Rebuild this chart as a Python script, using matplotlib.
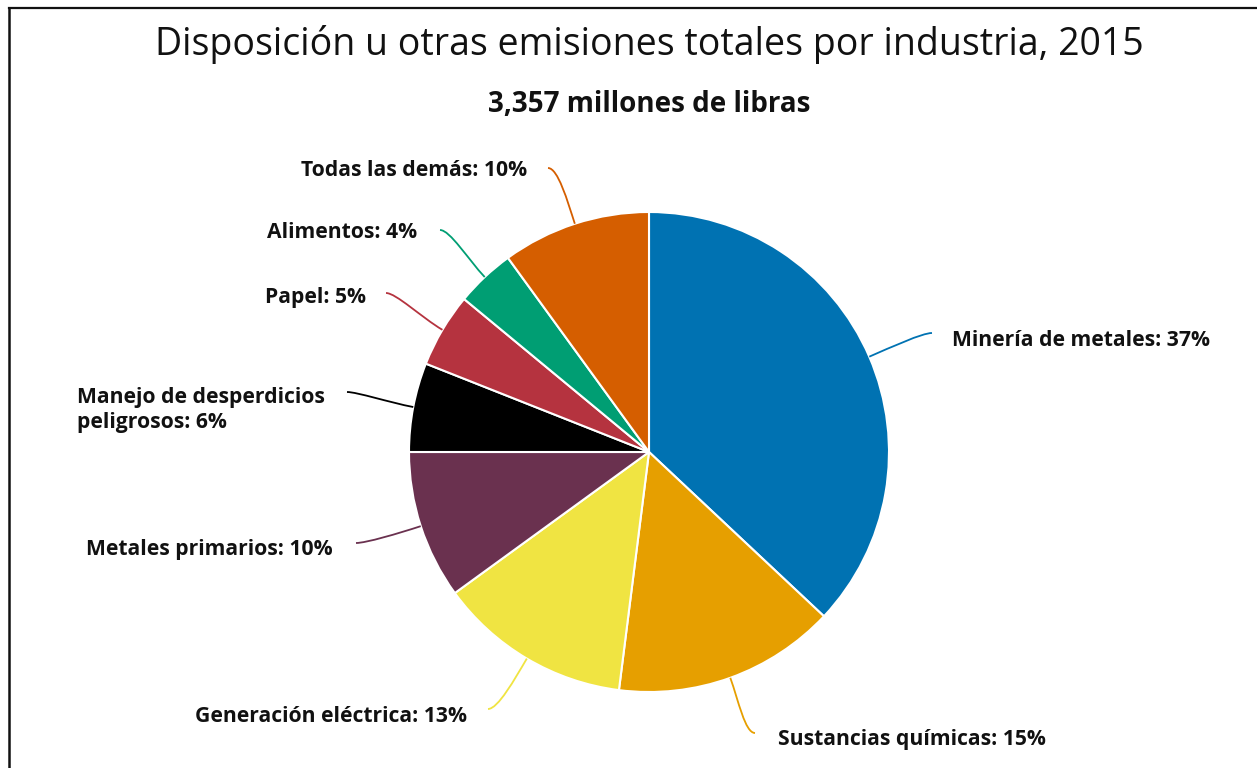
import matplotlib
matplotlib.use("Agg")
import matplotlib.pyplot as plt
import numpy as np
from matplotlib.path import Path
from matplotlib.patches import PathPatch
from matplotlib.lines import Line2D

plt.rcParams["font.family"] = ["Open Sans", "DejaVu Sans"]

# data
industries = [
    "Minería de metales",
    "Sustancias químicas",
    "Generación eléctrica",
    "Metales primarios",
    "Manejo de desperdicios\npeligrosos",
    "Papel",
    "Alimentos",
    "Todas las demás",
]
shares = [37, 15, 13, 10, 6, 5, 4, 10]
colors = ["#0072B2", "#E69F00", "#F0E442", "#6A314F",
          "#000000", "#B5333F", "#009E73", "#D55E00"]

# label anchors in pixels (x, y from top) and alignment
label_pos = [(952, 340), (778, 740), (467, 716), (333, 550),
             (77, 410), (366, 297), (417, 233), (527, 171)]
label_ha = ["left", "left", "right", "right", "left", "right", "right", "right"]
# where the leader line ends (pixels, from top)
leader_end = [(932, 333), (755, 733), (488, 709), (356, 543),
              (347, 392), (386, 293), (440, 230), (548, 168)]

W, H = 1257, 768
cx, cy, R = 649, H - 452, 240

fig = plt.figure(figsize=(W / 100, H / 100), dpi=100)
ax = fig.add_axes([0, 0, 1, 1])

wedges, _ = ax.pie(shares, colors=colors, startangle=90, counterclock=False,
                   center=(cx, cy), radius=R,
                   wedgeprops=dict(edgecolor="white", linewidth=1.5))
ax.set_xlim(0, W)
ax.set_ylim(0, H)
ax.set_aspect("auto")
ax.axis("off")

for w, name, pct, col, (lx, ly), ha, (ex, ey) in zip(
        wedges, industries, shares, colors, label_pos, label_ha, leader_end):
    mid = np.deg2rad((w.theta1 + w.theta2) / 2)
    sx, sy = cx + R * np.cos(mid), cy + R * np.sin(mid)
    # leave the wedge radially, arrive at the label horizontally
    k1 = (cx + R * 1.1 * np.cos(mid), cy + R * 1.1 * np.sin(mid))
    side = 1 if ex > cx else -1
    k2 = (ex - side * 10, H - ey)
    path = Path([(sx, sy), k1, k2, (ex, H - ey)],
                [Path.MOVETO, Path.CURVE4, Path.CURVE4, Path.CURVE4])
    ax.add_patch(PathPatch(path, fill=False, edgecolor=col, linewidth=1.3))
    ax.text(lx, H - ly, f"{name}: {pct}%", ha=ha, va="center",
            fontsize=15.2, fontweight="bold", color="#111111",
            linespacing=1.25)

fig.text(649 / W, 1 - 44 / H, "Disposición u otras emisiones totales por industria, 2015",
         ha="center", va="center", fontsize=27, color="#111111")
fig.text(649 / W, 1 - 104 / H, "3,357 millones de libras",
         ha="center", va="center", fontsize=20, fontweight="bold", color="#111111")

# frame edges visible in the screenshot
fig.add_artist(Line2D([9 / W, 1], [1 - 8 / H, 1 - 8 / H], color="#111111", linewidth=1.6))
fig.add_artist(Line2D([9 / W, 9 / W], [0, 1 - 8 / H], color="#111111", linewidth=1.8))

fig.savefig("out.png", dpi=100, facecolor="white")
